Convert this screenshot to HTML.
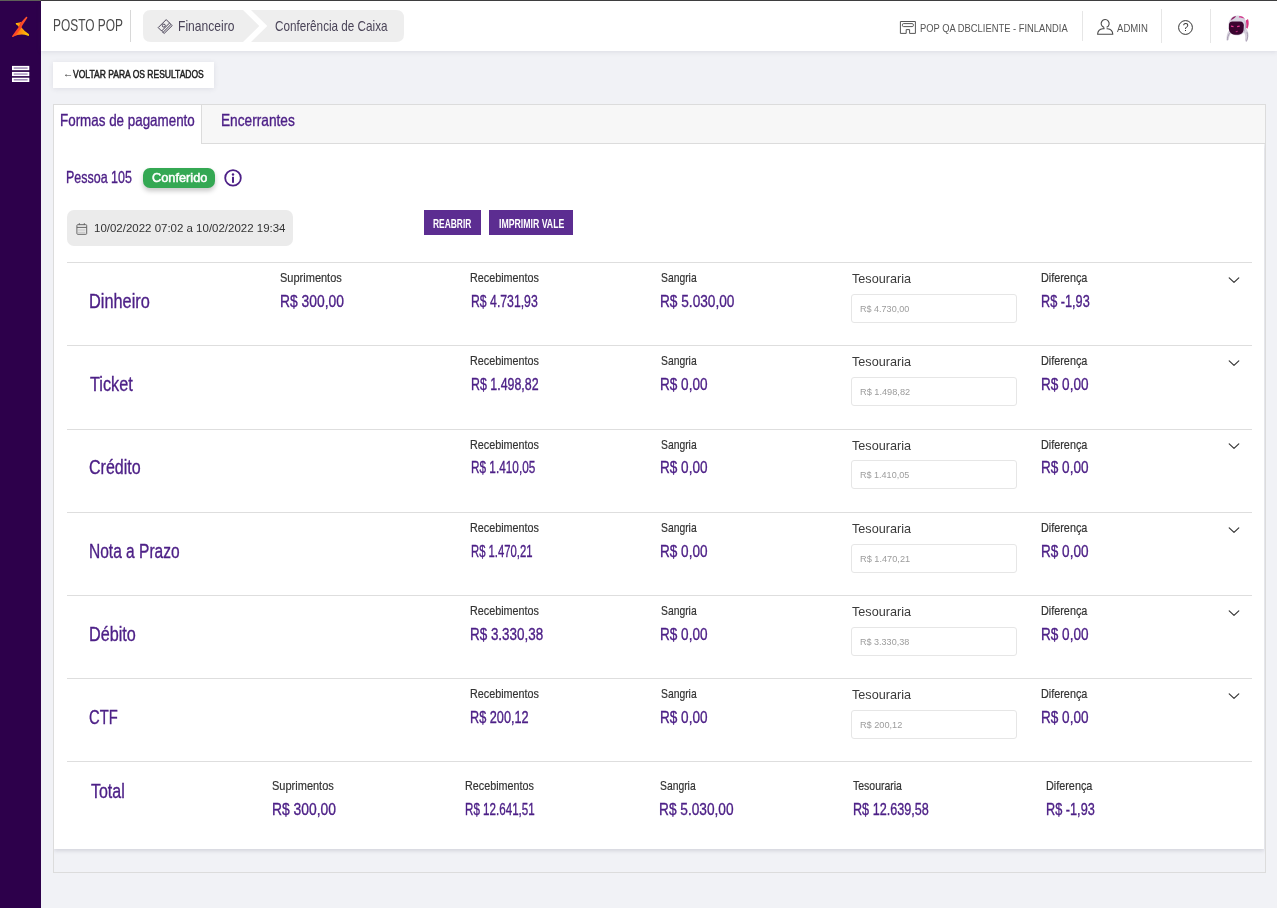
<!DOCTYPE html>
<html lang="pt-BR">
<head>
<meta charset="utf-8">
<title>Conferência de Caixa</title>
<style>
*{box-sizing:border-box;margin:0;padding:0}
html,body{width:1277px;height:908px;overflow:hidden}
body{position:relative;background:#f1f2f6;font-family:"Liberation Sans",sans-serif;}
.abs{position:absolute}
.m{-webkit-text-stroke:0.35px currentColor}
.s5{-webkit-text-stroke:0.5px currentColor}
.l{-webkit-text-stroke:0.2px currentColor}
.t{position:absolute;white-space:nowrap;line-height:1;transform-origin:0 0;display:block}
#topline{position:absolute;left:0;top:0;width:1277px;height:1px;background:linear-gradient(90deg,#5e6058 0,#5e6058 41px,#3e3e3e 41px)}
#side{position:absolute;left:0;top:1px;width:41px;height:907px;background:#2d004b}
#hdr{position:absolute;left:41px;top:1px;width:1236px;height:50px;background:#fff;box-shadow:0 1px 5px rgba(60,60,90,.12)}
.vsep{position:absolute;width:1px;background:#e6e6e6}
#back{position:absolute;left:53px;top:62px;width:161px;height:26px;background:#fff;box-shadow:0 1px 5px rgba(60,60,90,.10)}
#box{position:absolute;left:53px;top:104px;width:1213px;height:769px;border:1px solid #dcdcdc;background:#f1f2f6;overflow:hidden}
#tabs{position:absolute;left:54px;top:105px;width:1211px;height:39px;background:#f7f7f7;border-bottom:1px solid #dcdcdc}
#tab1{position:absolute;left:54px;top:105px;width:148px;height:39px;background:#fff;border-right:1px solid #dcdcdc}
#card{position:absolute;left:0;top:39px;width:1210px;height:705px;background:#fff;box-shadow:0 2px 4px rgba(60,60,90,.16)}
#badge{position:absolute;left:143px;top:168px;width:72px;height:20px;border-radius:7px;background:#34a853;box-shadow:0 3px 5px rgba(0,0,0,.22)}
#date{position:absolute;left:67px;top:210px;width:226px;height:36px;border-radius:7px;background:#ebebeb}
.btn{position:absolute;top:210px;height:25px;background:#5c2d91}
.ln{position:absolute;left:67px;width:1185px;height:1px;background:#dedede}
.inp{position:absolute;left:851px;width:166px;height:29px;border:1px solid #e6e6e6;border-radius:3px;background:#fff}
.chev{position:absolute;left:1227px}
svg{position:absolute;overflow:visible}
</style>
</head>
<body>
<div id="topline"></div>
<nav id="side">
  <svg style="left:11px;top:15px" width="20" height="22" viewBox="11 16 20 22">
    <defs>
      <linearGradient id="g1" x1="0" y1="0" x2="1" y2="0"><stop offset="0" stop-color="#ff4a22"/><stop offset=".45" stop-color="#ff8a10"/><stop offset="1" stop-color="#ffd000"/></linearGradient>
      <linearGradient id="g3" x1="0" y1="0" x2="1" y2="0"><stop offset="0" stop-color="#ff4a26"/><stop offset=".55" stop-color="#ff4424"/><stop offset="1" stop-color="#ff5630"/></linearGradient>
      <linearGradient id="g2" x1="1" y1="0" x2="0" y2="0"><stop offset="0" stop-color="#ff5a1f"/><stop offset="1" stop-color="#ffd000"/></linearGradient>
    </defs>
    <path d="M20.6 26.6 Q24.4 31.4 28.7 34.1 Q29.4 35 28.8 35.7 Q28.1 36.1 27.3 35.6 Q21 32.7 13 36.8 L19.6 28Z" fill="url(#g1)"/>
    <path d="M15.9 22.9 Q15.5 23.8 16.2 24.5 Q17.7 25.3 19 27.2 L21.6 21.8 Q18.6 23.2 15.9 22.9Z" fill="url(#g2)"/>
    <path d="M26.9 16.8 Q27.6 17.1 27.2 17.9 L22.3 25.6 L20.7 29 Q17.2 33.8 13.1 36.9 Q11.9 37.3 12 36.2 Q15.6 31 19.1 26.4 L21.1 22.6 Q23.4 19.6 26 17 Q26.4 16.6 26.9 16.8Z" fill="url(#g3)"/>
  </svg>
  <svg style="left:12px;top:64px" width="18" height="18" viewBox="0 0 18 18">
    <g fill="#fff"><rect x="0" y="0.9" width="17.3" height="4.3"/><rect x="0" y="6.9" width="17.3" height="4.2"/><rect x="0" y="12.7" width="17.3" height="4.3"/></g>
    <g fill="#7a5f9a"><rect x="1.7" y="2.5" width="13.9" height="1.1"/><rect x="1.7" y="8.3" width="13.9" height="1.5" fill="#a892bf"/><rect x="1.7" y="14.3" width="13.9" height="1.1"/></g>
  </svg>
</nav>
<header id="hdr"></header>
<div class="vsep" style="left:130px;top:10px;height:32px;background:#d8d8d8"></div>
<!-- breadcrumb -->
<svg style="left:143px;top:10px" width="262" height="32" viewBox="143 10 262 32">
  <path d="M151 10 H243 L259.3 26 L243 42 H151 Q143 42 143 34 V18 Q143 10 151 10Z" fill="#eeeeee"/>
  <path d="M251 10 H396 Q404 10 404 18 V34 Q404 42 396 42 H251 L267.3 26Z" fill="#eeeeee"/>
  <g fill="none" stroke="#4a4458" stroke-width="1" stroke-linejoin="round">
    <path d="M166.2 19.6 L169.6 23 L161.6 31 L158.2 27.6Z"/>
    <path d="M169.6 23 L171 24.4 L163 32.4 L161.6 31 M171 24.4 L172.2 25.6 L164.2 33.4 L163 32.4"/>
    <circle cx="163.8" cy="25.6" r="1.5"/>
  </g>
</svg>
<!-- header right -->
<svg style="left:899px;top:20px" width="18" height="15" viewBox="899 20 18 15">
  <g fill="none" stroke="#555" stroke-width="1">
    <path d="M906.2 33.4 H900.4 V21.5 H915.4 V33.4 H909.6 V29.6 H906.2Z"/>
    <rect x="902.4" y="23.6" width="11" height="3" rx="1.2"/>
  </g>
</svg>
<div class="vsep" style="left:1082px;top:11px;height:30px"></div>
<svg style="left:1096px;top:19px" width="18" height="17" viewBox="1096 19 18 17">
  <g fill="none" stroke="#4a4a4a" stroke-width="1.1" stroke-linejoin="round">
    <path d="M1104 27.4 A4 4 0 1 1 1106.6 27.3"/>
    <path d="M1104 27.4 V28.7 H1102.8 C1100 29 1097.8 31 1097.6 34.2 H1112.8 C1112.6 31 1110.4 29 1107.6 28.7 H1106.6"/>
  </g>
</svg>
<div class="vsep" style="left:1161px;top:9px;height:34px"></div>
<svg style="left:1177px;top:19px" width="17" height="17" viewBox="1177 19 17 17">
  <circle cx="1185.5" cy="27.5" r="6.9" fill="none" stroke="#333" stroke-width="1"/>
  <text x="1185.6" y="31.3" font-family="Liberation Sans, sans-serif" font-size="10.5" fill="#333" text-anchor="middle">?</text>
</svg>
<div class="vsep" style="left:1210px;top:9px;height:34px"></div>
<!-- avatar -->
<svg style="left:1224px;top:14px" width="28" height="29" viewBox="1224 14 28 29">
  <path d="M1229.4 30 C1227 32.6 1226 36.6 1226.9 40.6 C1227.8 40.6 1228.6 40 1229 39 C1229 36.6 1230 34.6 1231.4 33Z" fill="#d6d0dc"/>
  <path d="M1227.2 40.2 C1227.4 37.6 1228.2 35.2 1229.6 33.2" fill="none" stroke="#9a8fa6" stroke-width=".8"/>
  <path d="M1246.2 28.8 C1249 32 1249.4 37.4 1246.6 41.8 C1245.6 41.6 1245.2 41 1245 40 C1245.6 37 1245.2 34.6 1244 32.6Z" fill="#d6d0dc"/>
  <path d="M1246.4 41.4 C1247.8 38.4 1248 35.2 1247 32.2" fill="none" stroke="#9a8fa6" stroke-width=".8"/>
  <path d="M1245.8 20.4 L1248 19 C1249.2 22.4 1248.8 26 1247.4 28.8 L1245.6 27.4Z" fill="#d93480"/>
  <path d="M1237.6 15.6 C1243.8 15.6 1246.6 19.6 1246.4 25.6 C1246.2 31.6 1243 35.5 1237.2 35.5 C1231.4 35.5 1228.3 31.6 1228.4 26 C1228.5 20 1231.6 15.6 1237.6 15.6Z" fill="#d8d3e0"/>
  <path d="M1244.6 20.6 C1246.4 24 1246.4 29 1243.8 32.8 C1245.2 28.8 1245.4 24.4 1244.6 20.6Z" fill="#a79fb8"/>
  <path d="M1230.8 20.4 C1231.6 17.6 1233.8 16.2 1236 16 C1235.4 17.6 1233.4 19 1230.8 20.4Z" fill="#8a1f62"/>
  <path d="M1239.4 16 C1241.8 16 1243.8 17.2 1244.8 19 C1243 18.2 1241 17.6 1238.8 17.6Z" fill="#d6388c"/>
  <path d="M1232.4 21.4 H1240.2 C1242.6 21.4 1243.9 23 1243.8 25.6 L1243.6 29.4 C1243.4 32.8 1240.8 34.7 1236.6 34.7 C1232 34.7 1228.9 32.6 1228.9 28.4 L1229 24.6 C1229.1 22.6 1230.4 21.4 1232.4 21.4Z" fill="#3b0530"/>
  <path d="M1231 25.6 l2.6 .4 l-.2 1.2 l-2.5 -.4Z M1237 26 l2.6 -.4 l.2 1.2 l-2.6 .4Z" fill="#e43a93"/>
  <path d="M1235.6 31.2 l2.2 -.4 l-.3 1.1 l-1.7 .3Z" fill="#b52a78"/>
</svg>

<div id="back"></div>
<div id="box"><main id="card"></main></div>
<div id="tabs"></div>
<div id="tab1"></div>
<div id="badge"></div>
<svg style="left:224px;top:169px" width="18" height="18" viewBox="224 169 18 18">
  <circle cx="233" cy="177.9" r="7.8" fill="none" stroke="#4d2087" stroke-width="1.8"/>
  <rect x="232" y="176.8" width="2" height="6" fill="#4d2087"/><circle cx="233" cy="174.5" r="1.2" fill="#4d2087"/>
</svg>
<div id="date"></div>
<svg style="left:76px;top:223px" width="12" height="12" viewBox="76 223 12 12">
  <g fill="none" stroke="#666" stroke-width="1">
    <rect x="76.9" y="224.7" width="9.8" height="9.6" rx="0.8"/>
    <path d="M76.9 227.4 H86.7 M79.3 223.2 V225 M84.3 223.2 V225"/>
  </g>
  <path d="M78.4 230 H85.2 M78.4 232.3 H85.2" stroke="#999" stroke-width="0.8" stroke-dasharray="1.2 0.8"/>
</svg>
<div class="btn" style="left:424px;width:57px"></div>
<div class="btn" style="left:489px;width:84px"></div>
<div class="ln" style="top:262px"></div>
<div class="ln" style="top:345px"></div>
<div class="ln" style="top:429px"></div>
<div class="ln" style="top:512px"></div>
<div class="ln" style="top:595px"></div>
<div class="ln" style="top:678px"></div>
<div class="ln" style="top:761px"></div>
<div class="inp" style="top:294px"></div>
<div class="inp" style="top:377px"></div>
<div class="inp" style="top:460px"></div>
<div class="inp" style="top:544px"></div>
<div class="inp" style="top:627px"></div>
<div class="inp" style="top:710px"></div>
<svg class="chev" style="top:275.7px" width="14" height="9" viewBox="0 0 14 9"><path d="M2.2 1.8 L7 6.4 L11.8 1.8" fill="none" stroke="#333" stroke-width="1.15" stroke-linecap="round" stroke-linejoin="round"/></svg>
<svg class="chev" style="top:358.7px" width="14" height="9" viewBox="0 0 14 9"><path d="M2.2 1.8 L7 6.4 L11.8 1.8" fill="none" stroke="#333" stroke-width="1.15" stroke-linecap="round" stroke-linejoin="round"/></svg>
<svg class="chev" style="top:441.7px" width="14" height="9" viewBox="0 0 14 9"><path d="M2.2 1.8 L7 6.4 L11.8 1.8" fill="none" stroke="#333" stroke-width="1.15" stroke-linecap="round" stroke-linejoin="round"/></svg>
<svg class="chev" style="top:525.7px" width="14" height="9" viewBox="0 0 14 9"><path d="M2.2 1.8 L7 6.4 L11.8 1.8" fill="none" stroke="#333" stroke-width="1.15" stroke-linecap="round" stroke-linejoin="round"/></svg>
<svg class="chev" style="top:608.7px" width="14" height="9" viewBox="0 0 14 9"><path d="M2.2 1.8 L7 6.4 L11.8 1.8" fill="none" stroke="#333" stroke-width="1.15" stroke-linecap="round" stroke-linejoin="round"/></svg>
<svg class="chev" style="top:691.7px" width="14" height="9" viewBox="0 0 14 9"><path d="M2.2 1.8 L7 6.4 L11.8 1.8" fill="none" stroke="#333" stroke-width="1.15" stroke-linecap="round" stroke-linejoin="round"/></svg>
<span class="t" style="left:53.1px;top:17px;font-size:16.5px;color:#4a4a4a;transform:scaleX(0.722);">POSTO POP</span>
<span class="t" style="left:178.0px;top:18px;font-size:15px;color:#4a4458;transform:scaleX(0.805);">Financeiro</span>
<span class="t" style="left:275.0px;top:18px;font-size:15px;color:#4a4458;transform:scaleX(0.780);">Conferência de Caixa</span>
<span class="t" style="left:920.0px;top:23px;font-size:11.8px;color:#555;transform:scaleX(0.794);">POP QA DBCLIENTE - FINLANDIA</span>
<span class="t" style="left:1117.4px;top:23px;font-size:11.8px;color:#555;transform:scaleX(0.811);">ADMIN</span>
<span class="t" style="left:62.7px;top:68px;font-size:11px;color:#333;transform:scaleX(0.943);">←</span>
<span class="t s5" style="left:73.3px;top:69px;font-size:10.9px;color:#222;transform:scaleX(0.782);">VOLTAR PARA OS RESULTADOS</span>
<span class="t m" style="left:59.6px;top:112px;font-size:16.5px;color:#4d2087;transform:scaleX(0.812);">Formas de pagamento</span>
<span class="t m" style="left:220.9px;top:112px;font-size:16.5px;color:#4d2087;transform:scaleX(0.829);">Encerrantes</span>
<span class="t m" style="left:66.2px;top:169px;font-size:16.5px;color:#4d2087;transform:scaleX(0.756);">Pessoa 105</span>
<span class="t s5" style="left:151.5px;top:172px;font-size:12.9px;color:#fff;transform:scaleX(0.991);">Conferido</span>
<span class="t" style="left:93.9px;top:223px;font-size:11.2px;color:#333;transform:scaleX(1.026);">10/02/2022 07:02 a 10/02/2022 19:34</span>
<span class="t" style="left:433.4px;top:218px;font-size:12.6px;color:#fff;font-weight:700;transform:scaleX(0.669);">REABRIR</span>
<span class="t" style="left:498.7px;top:218px;font-size:12.6px;color:#fff;font-weight:700;transform:scaleX(0.693);">IMPRIMIR VALE</span>
<span class="t m" style="left:89.2px;top:291px;font-size:20.5px;color:#4d2087;transform:scaleX(0.797);">Dinheiro</span>
<span class="t l" style="left:279.9px;top:271px;font-size:13.6px;color:#333;transform:scaleX(0.810);">Suprimentos</span>
<span class="t m" style="left:279.6px;top:294px;font-size:16.8px;color:#4d2087;transform:scaleX(0.825);">R$ 300,00</span>
<span class="t l" style="left:469.9px;top:271px;font-size:13.6px;color:#333;transform:scaleX(0.793);">Recebimentos</span>
<span class="t m" style="left:470.5px;top:294px;font-size:16.8px;color:#4d2087;transform:scaleX(0.730);">R$ 4.731,93</span>
<span class="t l" style="left:660.5px;top:271px;font-size:13.6px;color:#333;transform:scaleX(0.761);">Sangria</span>
<span class="t m" style="left:660.3px;top:294px;font-size:16.8px;color:#4d2087;transform:scaleX(0.814);">R$ 5.030,00</span>
<span class="t" style="left:851.5px;top:273px;font-size:12.2px;color:#3a3a3a;transform:scaleX(1.038);">Tesouraria</span>
<span class="t" style="left:859.8px;top:304px;font-size:9.8px;color:#9c9c9c;transform:scaleX(0.922);">R$ 4.730,00</span>
<span class="t l" style="left:1040.6px;top:271px;font-size:13.6px;color:#333;transform:scaleX(0.797);">Diferença</span>
<span class="t m" style="left:1041.2px;top:294px;font-size:16.8px;color:#4d2087;transform:scaleX(0.757);">R$ -1,93</span>
<span class="t m" style="left:90.0px;top:374px;font-size:20.5px;color:#4d2087;transform:scaleX(0.793);">Ticket</span>
<span class="t l" style="left:469.9px;top:354px;font-size:13.6px;color:#333;transform:scaleX(0.793);">Recebimentos</span>
<span class="t m" style="left:470.5px;top:377px;font-size:16.8px;color:#4d2087;transform:scaleX(0.739);">R$ 1.498,82</span>
<span class="t l" style="left:660.5px;top:354px;font-size:13.6px;color:#333;transform:scaleX(0.761);">Sangria</span>
<span class="t m" style="left:660.3px;top:377px;font-size:16.8px;color:#4d2087;transform:scaleX(0.808);">R$ 0,00</span>
<span class="t" style="left:851.5px;top:356px;font-size:12.2px;color:#3a3a3a;transform:scaleX(1.038);">Tesouraria</span>
<span class="t" style="left:859.8px;top:387px;font-size:9.8px;color:#9c9c9c;transform:scaleX(0.939);">R$ 1.498,82</span>
<span class="t l" style="left:1040.6px;top:354px;font-size:13.6px;color:#333;transform:scaleX(0.797);">Diferença</span>
<span class="t m" style="left:1041.2px;top:377px;font-size:16.8px;color:#4d2087;transform:scaleX(0.808);">R$ 0,00</span>
<span class="t m" style="left:89.2px;top:457px;font-size:20.5px;color:#4d2087;transform:scaleX(0.782);">Crédito</span>
<span class="t l" style="left:469.9px;top:438px;font-size:13.6px;color:#333;transform:scaleX(0.793);">Recebimentos</span>
<span class="t m" style="left:470.5px;top:460px;font-size:16.8px;color:#4d2087;transform:scaleX(0.703);">R$ 1.410,05</span>
<span class="t l" style="left:660.5px;top:438px;font-size:13.6px;color:#333;transform:scaleX(0.761);">Sangria</span>
<span class="t m" style="left:660.3px;top:460px;font-size:16.8px;color:#4d2087;transform:scaleX(0.808);">R$ 0,00</span>
<span class="t" style="left:851.5px;top:440px;font-size:12.2px;color:#3a3a3a;transform:scaleX(1.038);">Tesouraria</span>
<span class="t" style="left:859.8px;top:470px;font-size:9.8px;color:#9c9c9c;transform:scaleX(0.922);">R$ 1.410,05</span>
<span class="t l" style="left:1040.6px;top:438px;font-size:13.6px;color:#333;transform:scaleX(0.797);">Diferença</span>
<span class="t m" style="left:1041.2px;top:460px;font-size:16.8px;color:#4d2087;transform:scaleX(0.808);">R$ 0,00</span>
<span class="t m" style="left:89.2px;top:541px;font-size:20.5px;color:#4d2087;transform:scaleX(0.757);">Nota a Prazo</span>
<span class="t l" style="left:469.9px;top:521px;font-size:13.6px;color:#333;transform:scaleX(0.793);">Recebimentos</span>
<span class="t m" style="left:470.5px;top:544px;font-size:16.8px;color:#4d2087;transform:scaleX(0.673);">R$ 1.470,21</span>
<span class="t l" style="left:660.5px;top:521px;font-size:13.6px;color:#333;transform:scaleX(0.761);">Sangria</span>
<span class="t m" style="left:660.3px;top:544px;font-size:16.8px;color:#4d2087;transform:scaleX(0.808);">R$ 0,00</span>
<span class="t" style="left:851.5px;top:523px;font-size:12.2px;color:#3a3a3a;transform:scaleX(1.038);">Tesouraria</span>
<span class="t" style="left:859.8px;top:554px;font-size:9.8px;color:#9c9c9c;transform:scaleX(0.939);">R$ 1.470,21</span>
<span class="t l" style="left:1040.6px;top:521px;font-size:13.6px;color:#333;transform:scaleX(0.797);">Diferença</span>
<span class="t m" style="left:1041.2px;top:544px;font-size:16.8px;color:#4d2087;transform:scaleX(0.808);">R$ 0,00</span>
<span class="t m" style="left:89.2px;top:624px;font-size:20.5px;color:#4d2087;transform:scaleX(0.790);">Débito</span>
<span class="t l" style="left:469.9px;top:604px;font-size:13.6px;color:#333;transform:scaleX(0.793);">Recebimentos</span>
<span class="t m" style="left:470.4px;top:627px;font-size:16.8px;color:#4d2087;transform:scaleX(0.800);">R$ 3.330,38</span>
<span class="t l" style="left:660.5px;top:604px;font-size:13.6px;color:#333;transform:scaleX(0.761);">Sangria</span>
<span class="t m" style="left:660.3px;top:627px;font-size:16.8px;color:#4d2087;transform:scaleX(0.808);">R$ 0,00</span>
<span class="t" style="left:851.5px;top:606px;font-size:12.2px;color:#3a3a3a;transform:scaleX(1.038);">Tesouraria</span>
<span class="t" style="left:859.8px;top:637px;font-size:9.8px;color:#9c9c9c;transform:scaleX(0.922);">R$ 3.330,38</span>
<span class="t l" style="left:1040.6px;top:604px;font-size:13.6px;color:#333;transform:scaleX(0.797);">Diferença</span>
<span class="t m" style="left:1041.2px;top:627px;font-size:16.8px;color:#4d2087;transform:scaleX(0.808);">R$ 0,00</span>
<span class="t m" style="left:89.3px;top:707px;font-size:20.5px;color:#4d2087;transform:scaleX(0.720);">CTF</span>
<span class="t l" style="left:469.9px;top:687px;font-size:13.6px;color:#333;transform:scaleX(0.793);">Recebimentos</span>
<span class="t m" style="left:470.4px;top:710px;font-size:16.8px;color:#4d2087;transform:scaleX(0.757);">R$ 200,12</span>
<span class="t l" style="left:660.5px;top:687px;font-size:13.6px;color:#333;transform:scaleX(0.761);">Sangria</span>
<span class="t m" style="left:660.3px;top:710px;font-size:16.8px;color:#4d2087;transform:scaleX(0.808);">R$ 0,00</span>
<span class="t" style="left:851.5px;top:689px;font-size:12.2px;color:#3a3a3a;transform:scaleX(1.038);">Tesouraria</span>
<span class="t" style="left:859.8px;top:720px;font-size:9.8px;color:#9c9c9c;transform:scaleX(0.936);">R$ 200,12</span>
<span class="t l" style="left:1040.6px;top:687px;font-size:13.6px;color:#333;transform:scaleX(0.797);">Diferença</span>
<span class="t m" style="left:1041.2px;top:710px;font-size:16.8px;color:#4d2087;transform:scaleX(0.808);">R$ 0,00</span>
<span class="t m" style="left:91.4px;top:781px;font-size:20.5px;color:#4d2087;transform:scaleX(0.779);">Total</span>
<span class="t l" style="left:272.3px;top:779px;font-size:13.6px;color:#333;transform:scaleX(0.810);">Suprimentos</span>
<span class="t m" style="left:272.0px;top:802px;font-size:16.8px;color:#4d2087;transform:scaleX(0.826);">R$ 300,00</span>
<span class="t l" style="left:464.7px;top:779px;font-size:13.6px;color:#333;transform:scaleX(0.793);">Recebimentos</span>
<span class="t m" style="left:465.3px;top:802px;font-size:16.8px;color:#4d2087;transform:scaleX(0.692);">R$ 12.641,51</span>
<span class="t l" style="left:659.7px;top:779px;font-size:13.6px;color:#333;transform:scaleX(0.761);">Sangria</span>
<span class="t m" style="left:659.4px;top:802px;font-size:16.8px;color:#4d2087;transform:scaleX(0.815);">R$ 5.030,00</span>
<span class="t l" style="left:853.2px;top:779px;font-size:13.6px;color:#333;transform:scaleX(0.771);">Tesouraria</span>
<span class="t m" style="left:852.9px;top:802px;font-size:16.8px;color:#4d2087;transform:scaleX(0.752);">R$ 12.639,58</span>
<span class="t l" style="left:1045.7px;top:779px;font-size:13.6px;color:#333;transform:scaleX(0.797);">Diferença</span>
<span class="t m" style="left:1046.2px;top:802px;font-size:16.8px;color:#4d2087;transform:scaleX(0.758);">R$ -1,93</span>
</body>
</html>
